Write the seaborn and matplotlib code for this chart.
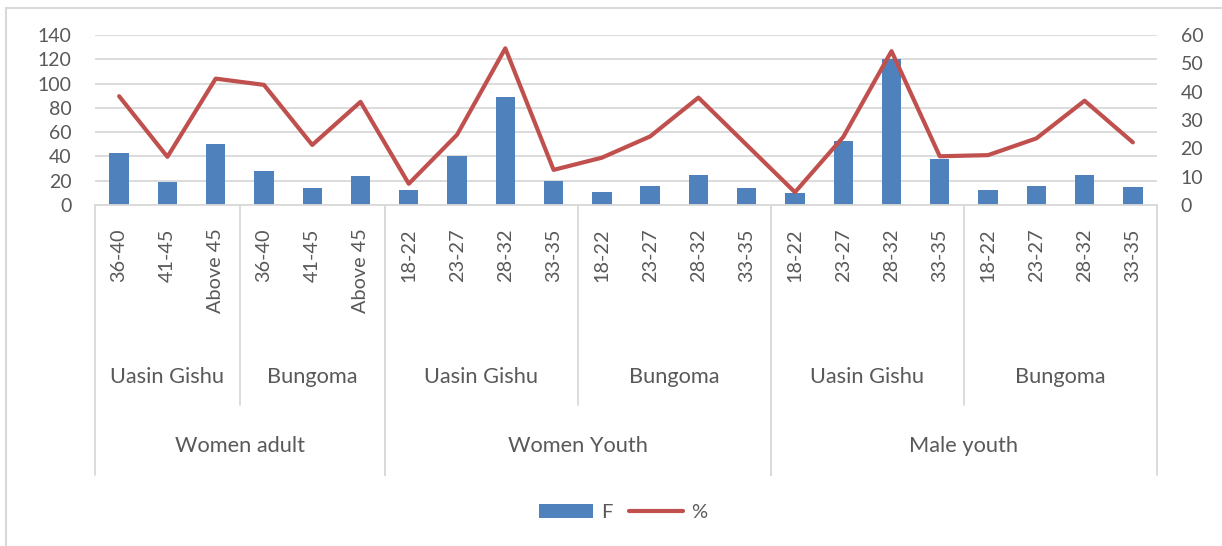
import numpy as np
import pandas as pd
import seaborn as sns
import matplotlib
matplotlib.use("Agg")
import matplotlib.pyplot as plt
from matplotlib.transforms import blended_transform_factory
from matplotlib.patches import Patch
from matplotlib.lines import Line2D

# ---- data ----
groups = ["Women adult"] * 6 + ["Women Youth"] * 8 + ["Male youth"] * 8
counties = (["Uasin Gishu"] * 3 + ["Bungoma"] * 3 +
            ["Uasin Gishu"] * 4 + ["Bungoma"] * 4 +
            ["Uasin Gishu"] * 4 + ["Bungoma"] * 4)
ages = ["36-40", "41-45", "Above 45", "36-40", "41-45", "Above 45",
        "18-22", "23-27", "28-32", "33-35", "18-22", "23-27", "28-32", "33-35",
        "18-22", "23-27", "28-32", "33-35", "18-22", "23-27", "28-32", "33-35"]
freq = [43, 19, 50, 28, 14, 24,
        12, 40, 89, 20, 11, 16, 25, 14,
        10, 53, 120, 38, 12, 16, 25, 15]
pct = [38.4, 17.0, 44.6, 42.4, 21.2, 36.4,
       7.5, 24.8, 55.3, 12.4, 16.7, 24.2, 37.9, 21.2,
       4.5, 24.0, 54.3, 17.2, 17.6, 23.5, 36.8, 22.1]
left_ticks = [0, 20, 40, 60, 80, 100, 120, 140]
right_ticks = [0, 10, 20, 30, 40, 50, 60]

df = pd.DataFrame({"group": groups, "county": counties, "age": ages,
                   "F": freq, "pct": pct})
df["key"] = [f"{g}|{c}|{a}|{i}" for i, (g, c, a) in enumerate(zip(groups, counties, ages))]
df["pos"] = np.arange(len(df))

BLUE = "#4F81BD"
RED = "#C0504D"
TXT = "#595959"
GRID = "#D9D9D9"
W, H = 1222, 546

sns.set_theme(style="white")
plt.rcParams["font.family"] = ["Lato", "DejaVu Sans"]

fig = plt.figure(figsize=(W / 100, H / 100), dpi=100)
ax_bottom = 1 - 205 / H
ax = fig.add_axes([95 / W, ax_bottom, (1157 - 95) / W, 170 / H])

sns.barplot(data=df, x="key", y="F", color=BLUE, saturation=1, width=0.4,
            linewidth=0, ax=ax)
ax.set_ylim(0, 140)
ax.set_xlim(-0.5, len(df) - 0.5)
ax.set_yticks(left_ticks)
ax.yaxis.grid(True, color=GRID, lw=1.3)
ax.set_axisbelow(True)
ax.set_xlabel("")
ax.set_ylabel("")
ax.set_xticks(df["pos"])
ax.set_xticklabels(ages, rotation=90, fontsize=14.3, color=TXT)
ax.tick_params(axis="x", length=0, pad=17)
ax.tick_params(axis="y", length=0, pad=17, labelsize=14, labelcolor=TXT)
for s in ["top", "left", "right"]:
    ax.spines[s].set_visible(False)
ax.spines["bottom"].set_color(GRID)
ax.spines["bottom"].set_linewidth(1.3)

ax2 = ax.twinx()
sns.lineplot(data=df, x="pos", y="pct", color=RED, linewidth=3.0, ax=ax2)
ax2.set_ylim(0, 60)
ax2.set_yticks(right_ticks)
ax2.set_xlim(-0.5, len(df) - 0.5)
ax2.set_xlabel("")
ax2.set_ylabel("")
ax2.grid(False)
ax2.tick_params(axis="y", length=0, pad=17, labelsize=14, labelcolor=TXT)
for s in ax2.spines.values():
    s.set_visible(False)

# ---- multi-level category axis ----
trans = blended_transform_factory(ax.transData, fig.transFigure)
y_county_end = 1 - 405 / H
y_group_end = 1 - 475 / H
y_county_lab = 1 - 377 / H
y_group_lab = 1 - 446 / H

def spans(keys):
    out = []
    start = 0
    for i in range(1, len(keys) + 1):
        if i == len(keys) or keys[i] != keys[start]:
            out.append((start, i - 1, keys[start]))
            start = i
    return out

gc = list(zip(groups, counties))
for s, e, (g, c) in spans(gc):
    ax.text((s + e) / 2, y_county_lab, c, transform=trans, ha="center",
            va="center", fontsize=15.7, color=TXT)
    fig.add_artist(Line2D([e + 0.5, e + 0.5], [ax_bottom, y_county_end],
                          transform=trans, color=GRID, lw=1.3))
for s, e, g in spans(groups):
    ax.text((s + e) / 2, y_group_lab, g, transform=trans, ha="center",
            va="center", fontsize=15.7, color=TXT)
    for b in (s - 0.5, e + 0.5):
        fig.add_artist(Line2D([b, b], [ax_bottom, y_group_end],
                              transform=trans, color=GRID, lw=1.3))

# ---- legend ----
handles = [Patch(facecolor=BLUE, edgecolor="none"),
           Line2D([], [], color=RED, lw=3.0)]
leg = fig.legend(handles, ["F", "%"], loc="center", bbox_to_anchor=(0.51, 0.062),
                 ncol=2, frameon=False, fontsize=14.5, handlelength=2.7,
                 handletextpad=0.4, columnspacing=0.8)
for t in leg.get_texts():
    t.set_color(TXT)

# ---- chart frame ----
fig.add_artist(Line2D([6 / W, 6 / W], [0, 1 - 8 / H], transform=fig.transFigure,
                      color=GRID, lw=1.5))
fig.add_artist(Line2D([6 / W, 1], [1 - 8 / H, 1 - 8 / H], transform=fig.transFigure,
                      color=GRID, lw=1.5))

fig.savefig("out.png", dpi=100)
